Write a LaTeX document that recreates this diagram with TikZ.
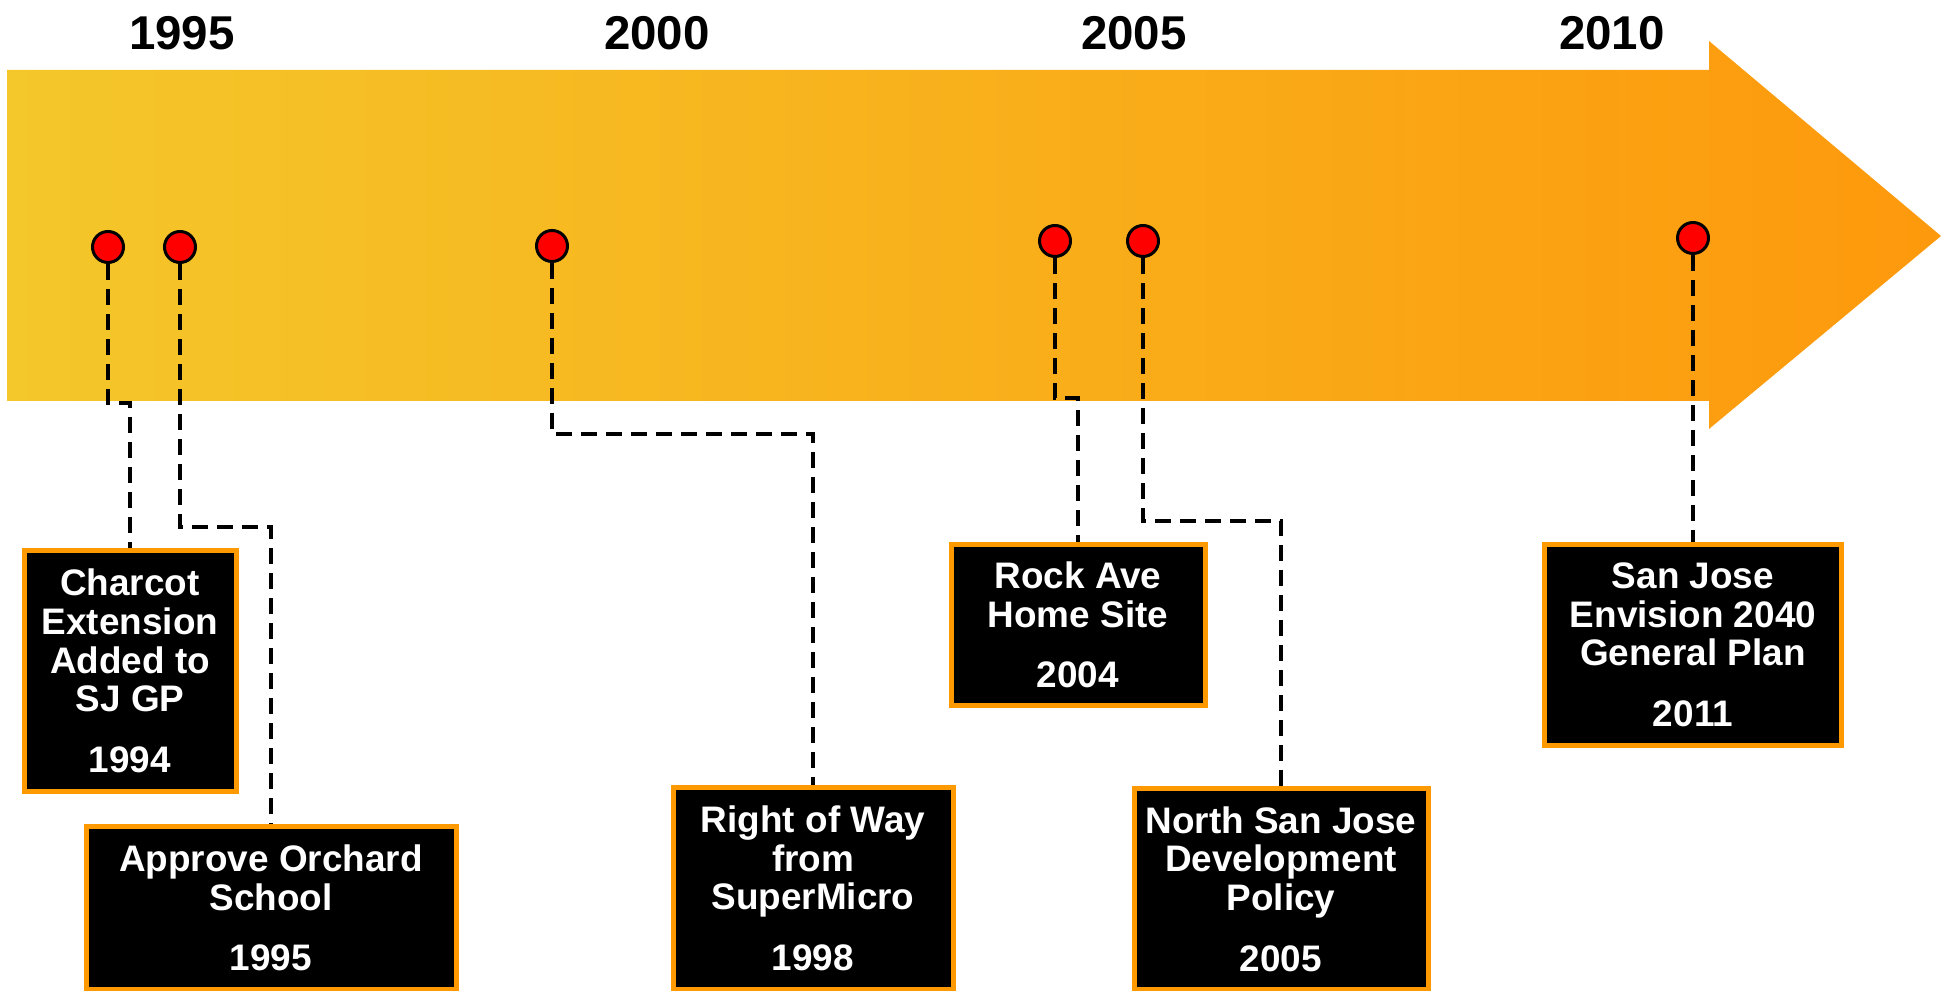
\documentclass[tikz,border=0pt]{standalone}
\usepackage{fontspec}
\setmainfont{Liberation Sans}
\usepackage{xcolor}
\usepackage{tikz}
\usetikzlibrary{shapes,positioning,calc}
\definecolor{arrowyellow}{RGB}{244,199,42}
\definecolor{arroworange}{RGB}{253,153,12}
\definecolor{boxorange}{RGB}{255,153,0}
\definecolor{dotred}{RGB}{255,0,0}

\begin{document}
\begin{tikzpicture}[font=\bfseries,
    eventbox/.style={rectangle, draw=boxorange, line width=0.05cm, fill=black, text=white, align=center, anchor=north, inner sep=0pt, font=\bfseries\fontsize{10.5}{11}\selectfont},
    reddot/.style={circle, draw=black, line width=0.03cm, fill=dotred, minimum size=0.31cm, inner sep=0pt},
    leader/.style={line width=0.04cm, dash pattern=on 1.6mm off 0.9mm},
    yearlabel/.style={font=\bfseries\fontsize{13.5}{14}\selectfont}]
        \useasboundingbox (0,0) rectangle (19.45,-9.91);
        % timeline arrow
        \shade[left color=arrowyellow, right color=arroworange] (0.07,-0.70) -- (17.09,-0.70) -- (17.09,-0.41) -- (19.41,-2.36) -- (17.09,-4.29) -- (17.09,-4.01) -- (0.07,-4.01) -- cycle;
        \node[yearlabel] (y1995) at (1.82,-0.33) {1995};
        \node[yearlabel] (y2000) at (6.57,-0.33) {2000};
        \node[yearlabel] (y2005) at (11.34,-0.33) {2005};
        \node[yearlabel] (y2010) at (16.12,-0.33) {2010};
        % events
        \node[eventbox, minimum width=2.12cm, minimum height=2.41cm] (charcot) at (1.30,-5.48) {Charcot\\Extension\\Added to\\SJ GP\\[0.6em]1994};
        \node[eventbox, minimum width=3.70cm, minimum height=1.63cm] (orchard) at (2.71,-8.24) {Approve Orchard\\School\\[0.6em]1995};
        \node[eventbox, minimum width=2.80cm, minimum height=2.02cm] (rightway) at (8.13,-7.85) {Right of Way\\from\\SuperMicro\\[0.6em]1998};
        \node[eventbox, minimum width=2.54cm, minimum height=1.61cm] (rockave) at (10.78,-5.42) {Rock Ave\\Home Site\\[0.6em]2004};
        \node[eventbox, minimum width=2.94cm, minimum height=2.01cm] (northsj) at (12.81,-7.86) {North San Jose\\Development\\Policy\\[0.6em]2005};
        \node[eventbox, minimum width=2.97cm, minimum height=2.01cm] (envision) at (16.93,-5.42) {San Jose\\Envision 2040\\General Plan\\[0.6em]2011};
        % markers on the arrow
        \node[reddot] (d1) at (1.08,-2.47) {};
        \node[reddot] (d2) at (1.80,-2.47) {};
        \node[reddot] (d3) at (5.52,-2.46) {};
        \node[reddot] (d4) at (10.55,-2.41) {};
        \node[reddot] (d5) at (11.43,-2.41) {};
        \node[reddot] (d6) at (16.93,-2.38) {};
        \coordinate (j1) at (1.30,-4.03);
        \coordinate (j2) at (2.71,-5.27);
        \coordinate (j3) at (8.13,-4.34);
        \coordinate (j4) at (10.78,-3.98);
        \coordinate (j5) at (12.81,-5.21);
        \draw[leader] (d1.south) |- (j1) -- (charcot.north);
        \draw[leader] (d2.south) |- (j2) -- (orchard.north);
        \draw[leader] (d3.south) |- (j3) -- (rightway.north);
        \draw[leader] (d4.south) |- (j4) -- (rockave.north);
        \draw[leader] (d5.south) |- (j5) -- (northsj.north);
        \draw[leader] (d6.south) -- (envision.north);
      \end{tikzpicture}
\end{document}
